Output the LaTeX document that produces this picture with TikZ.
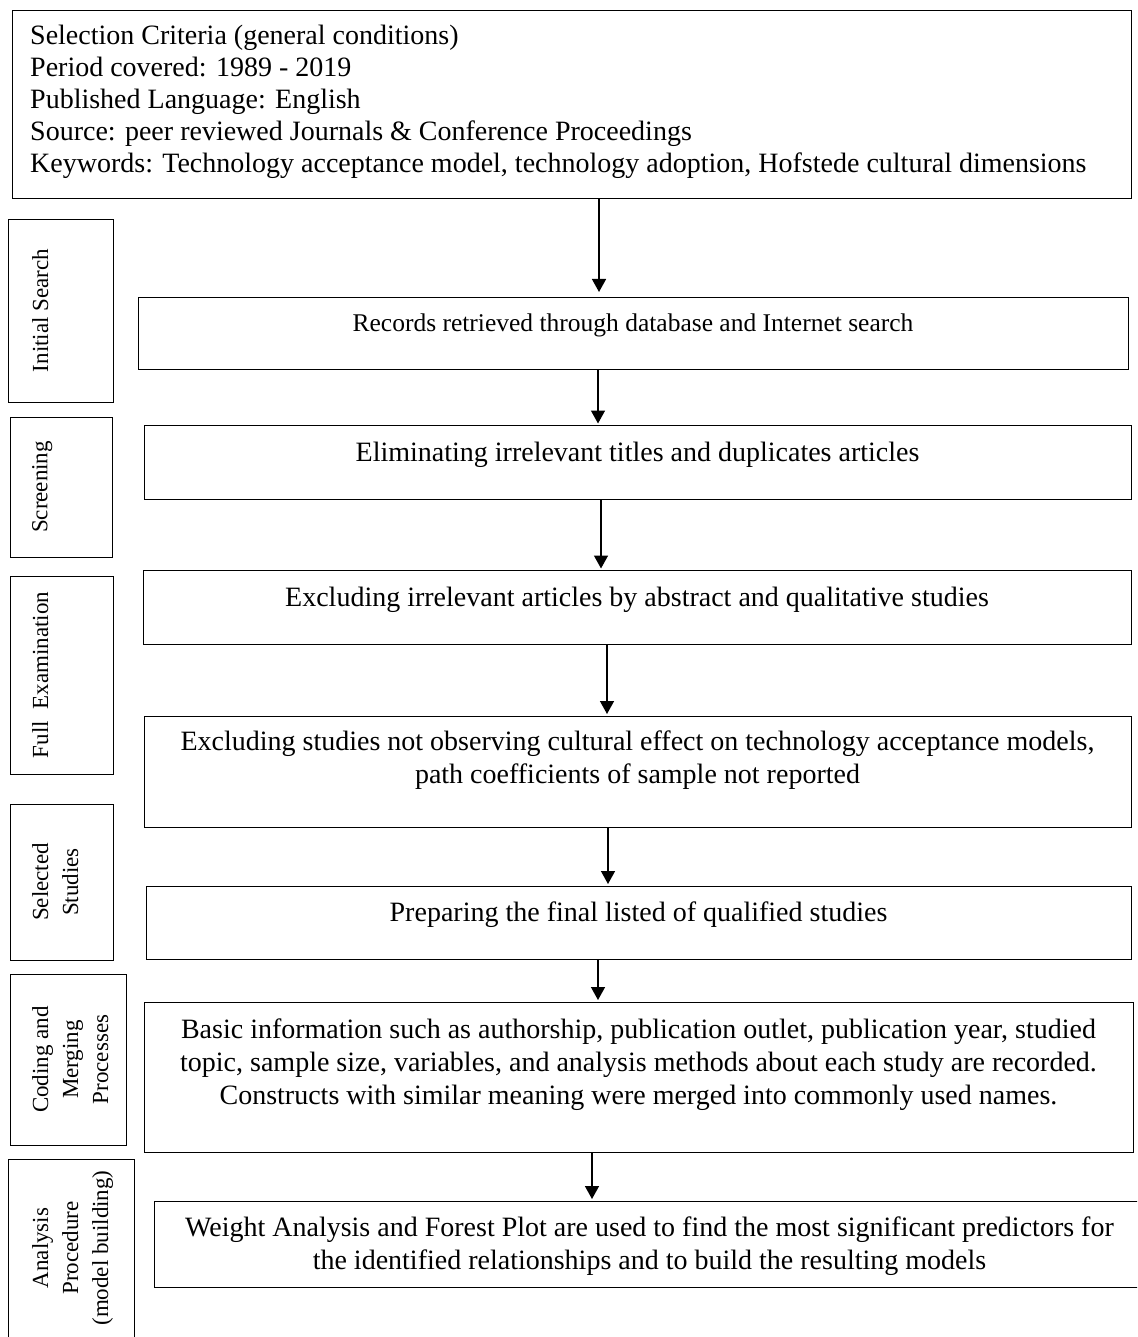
\documentclass[tikz,border=0pt]{standalone}
\usepackage{fontspec}
\setmainfont{Liberation Serif}
\usetikzlibrary{arrows.meta}
\begin{document}
\begin{tikzpicture}[x=1pt,y=-1pt,
  frame/.style={draw, line width=1.3pt, inner sep=0pt, anchor=north west},
  txt/.style={font=\fontsize{28}{33}\selectfont, align=center, inner sep=0pt},
  side/.style={font=\fontsize{23}{30}\selectfont, align=center, rotate=90, anchor=north, inner sep=0pt},
  arr/.style={line width=1.5pt, -{Triangle[width=14pt,length=13pt]}}]
\useasboundingbox (0,0) rectangle (1137,1337);
\clip (0,0) rectangle (1137,1337);
% main boxes
\node[frame, minimum width=1119pt, minimum height=188pt] (crit) at (12,10) {};
\node[frame, minimum width=990pt, minimum height=72pt] (rec) at (138,297) {};
\node[frame, minimum width=987pt, minimum height=74pt] (elim) at (144,425) {};
\node[frame, minimum width=988pt, minimum height=74pt] (exa) at (143,570) {};
\node[frame, minimum width=987pt, minimum height=111pt] (exb) at (144,716) {};
\node[frame, minimum width=985pt, minimum height=73pt] (prep) at (146,886) {};
\node[frame, minimum width=989pt, minimum height=150pt] (basic) at (144,1002) {};
\node[frame, minimum width=991pt, minimum height=86pt] (weight) at (154,1201) {};
% texts
\node[font=\fontsize{28}{32}\selectfont, align=left, inner sep=0pt, anchor=north west] (crittxt) at (30,21.6)
 {\strut Selection Criteria (general conditions)\\
  Period covered: 1989 - 2019\\
  Published Language: English\\
  Source: peer reviewed Journals \& Conference Proceedings\\
  Keywords: Technology acceptance model, technology adoption, Hofstede cultural dimensions};
\node[txt, font=\fontsize{25.5}{30}\selectfont, anchor=base] (rectxt) at (633,331) {Records retrieved through database and Internet search};
\node[txt, anchor=base] (elimtxt) at (637.5,461) {Eliminating irrelevant titles and duplicates articles};
\node[txt, anchor=base] (exatxt) at (637,606) {Excluding irrelevant articles by abstract and qualitative studies};
\node[txt, anchor=north] (exbtxt) at (637.5,726.9) {\strut Excluding studies not observing cultural effect on technology acceptance models,\\ path coefficients of sample not reported};
\node[txt, anchor=base] (preptxt) at (638.5,921) {Preparing the final listed of qualified studies};
\node[txt, anchor=north] (basictxt) at (638.5,1014.9) {\strut Basic information such as authorship, publication outlet, publication year, studied\\ topic, sample size, variables, and analysis methods about each study are recorded.\\ Constructs with similar meaning were merged into commonly used names.};
\node[txt, anchor=north] (weighttxt) at (649.5,1212.9) {\strut Weight Analysis and Forest Plot are used to find the most significant predictors for\\ the identified relationships and to build the resulting models};
% side boxes
\node[frame, minimum width=105pt, minimum height=183pt] (is) at (8,219) {};
\node[frame, minimum width=102pt, minimum height=140pt] (scr) at (10,417) {};
\node[frame, minimum width=103pt, minimum height=198pt] (fe) at (10,576) {};
\node[frame, minimum width=103pt, minimum height=156pt] (ss) at (10,804) {};
\node[frame, minimum width=116pt, minimum height=171pt] (cm) at (10,974) {};
\node[frame, minimum width=126pt, minimum height=190pt] (ap) at (8,1159) {};
\node[side] (islbl) at (32,310.5) {Initial Search};
\node[side] (scrlbl) at (32,487) {Screening};
\node[side] (felbl) at (32,675) {Full\ \ Examination};
\node[side] (sslbl) at (32,882) {Selected\\ Studies};
\node[side] (cmlbl) at (32,1059.5) {Coding and\\ Merging\\ Processes};
\node[side] (aplbl) at (32,1248) {Analysis\\ Procedure\\ (model building)};
% arrows
\coordinate (x1) at (599,0);
\coordinate (x2) at (598,0);
\coordinate (x3) at (601,0);
\coordinate (x4) at (607,0);
\coordinate (x5) at (608,0);
\coordinate (x6) at (598,0);
\coordinate (x7) at (592,0);
\draw[arr, shorten >=5pt] (crit.south -| x1) -- (rec.north -| x1);
\draw[arr, shorten >=1.5pt] (rec.south -| x2) -- (elim.north -| x2);
\draw[arr, shorten >=1.5pt] (elim.south -| x3) -- (exa.north -| x3);
\draw[arr, shorten >=2pt] (exa.south -| x4) -- (exb.north -| x4);
\draw[arr, shorten >=2pt] (exb.south -| x5) -- (prep.north -| x5);
\draw[arr, shorten >=2pt] (prep.south -| x6) -- (basic.north -| x6);
\draw[arr, shorten >=2pt] (basic.south -| x7) -- (weight.north -| x7);
\end{tikzpicture}
\end{document}
